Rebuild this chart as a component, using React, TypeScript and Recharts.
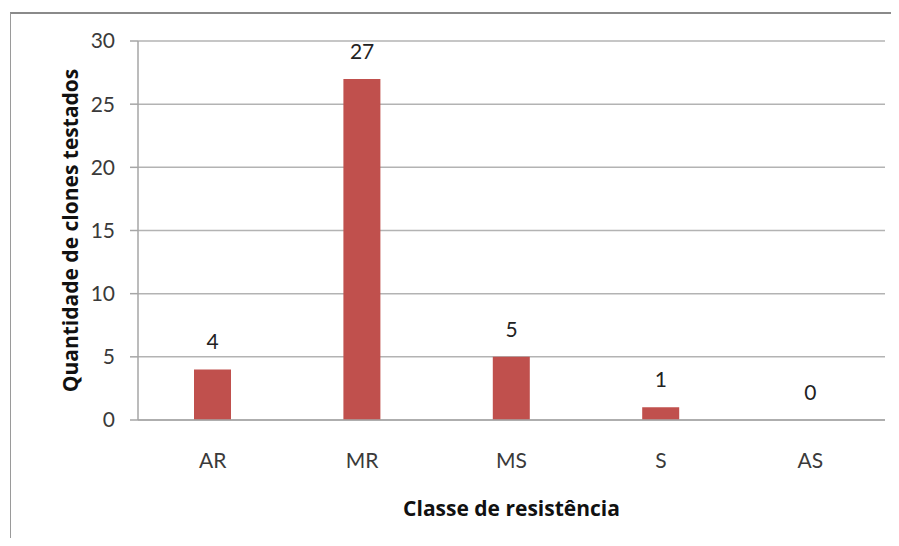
import React from "react";
import { ComposedChart, Bar, Line, XAxis, YAxis, CartesianGrid, LabelList, Label } from "recharts";

const categories = ["AR", "MR", "MS", "S", "AS"];
const counts = [4, 27, 5, 1, 0];
const yTicks = [0, 5, 10, 15, 20, 25, 30];

const data = categories.map((c, i) => ({ classe: c, quantidade: counts[i] }));

const FONT = "Lato, 'Open Sans', sans-serif";
const TITLE_FONT = "'Open Sans', Lato, sans-serif";

const renderTopLabel = (props: any) => {
  const { x, y, value } = props;
  return (
    <text
      x={Number(x)}
      y={Number(y) - 20}
      textAnchor="middle"
      fill="#222"
      fontSize={21}
      fontFamily={FONT}
    >
      {value}
    </text>
  );
};

export default function App() {
  return (
    <div style={{ position: "relative", width: 883, height: 530, fontFamily: FONT }}>
      <div
        style={{
          position: "absolute",
          left: 2,
          top: 4,
          width: 889,
          height: 534,
          borderTop: "2px solid #8a8a8a",
          borderLeft: "1px solid #9a9a9a",
          boxSizing: "border-box",
        }}
      />
      <div style={{ position: "absolute", left: 0, top: 0 }}>
        <ComposedChart
          width={883}
          height={530}
          data={data}
          margin={{ top: 33, right: 6, bottom: 78, left: 70 }}
          barCategoryGap={0}
        >
          <CartesianGrid vertical={false} stroke="#b3b3b3" strokeWidth={1.5} />
          <XAxis
            dataKey="classe"
            axisLine={{ stroke: "#a6a6a6", strokeWidth: 1.5 }}
            tickLine={false}
            tick={{ fill: "#3a3a3a", fontSize: 21, fontFamily: FONT }}
            tickMargin={27}
            height={40}
          >
            <Label
              value="Classe de resistência"
              position="insideBottom"
              offset={-56}
              style={{ fill: "#111", fontSize: 21, fontWeight: 700, fontFamily: TITLE_FONT }}
            />
          </XAxis>
          <YAxis
            domain={[0, 30]}
            ticks={yTicks}
            interval={0}
            width={60}
            axisLine={{ stroke: "#a6a6a6", strokeWidth: 1.5 }}
            tickLine={{ stroke: "#a6a6a6", strokeWidth: 1.5 }}
            tickSize={8}
            tickMargin={15}
            tick={{ fill: "#3a3a3a", fontSize: 21, fontFamily: FONT }}
          >
            <Label
              value="Quantidade de clones testados"
              angle={-90}
              position="insideLeft"
              offset={-7}
              style={{ fill: "#111", fontSize: 21, fontWeight: 700, fontFamily: TITLE_FONT, textAnchor: "middle" }}
            />
          </YAxis>
          <Bar dataKey="quantidade" fill="#C0504D" barSize={37} isAnimationActive={false} />
          <Line
            dataKey="quantidade"
            stroke="none"
            dot={false}
            activeDot={false}
            legendType="none"
            isAnimationActive={false}
          >
            <LabelList dataKey="quantidade" content={renderTopLabel} />
          </Line>
        </ComposedChart>
      </div>
    </div>
  );
}
